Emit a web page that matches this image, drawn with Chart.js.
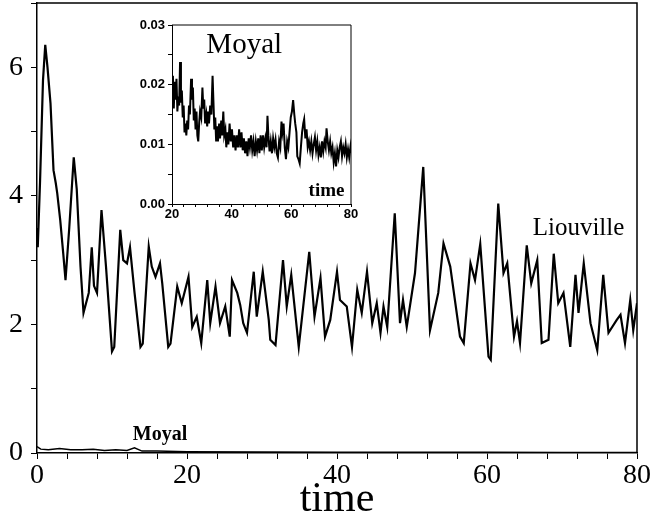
<!DOCTYPE html>
<html>
<head>
<meta charset="utf-8">
<script src="https://cdn.jsdelivr.net/npm/chart.js@4/dist/chart.umd.min.js"></script>
<style>
	html, body { margin: 0; padding: 0; background: #fff; }
	#wrap { position: relative; width: 652px; height: 520px; }
	#main { position: absolute; left: 0; top: 0; }
	#inset { position: absolute; left: 120px; top: 10px; }
</style>
</head>
<body>
<div id="wrap">
	<canvas id="main" width="652" height="520"></canvas>
	<canvas id="inset" width="245" height="215"></canvas>
</div>
<script>
"use strict";

// Liouville curve (main panel)
var liouvilleT = [0, 0.1, 0.4, 0.8, 1.1, 1.4, 1.8, 2.2, 2.5, 2.7, 3.1, 3.5, 3.8, 4.3, 4.9, 5.3, 5.8, 6.2, 6.9, 7.3, 7.6, 8.0, 8.6, 9.2, 10.0, 10.3, 11.1, 11.5, 12.0, 12.4, 13.0, 13.8, 14.1, 14.9, 15.3, 15.8, 16.4, 16.7, 17.5, 17.8, 18.7, 19.3, 20.2, 20.7, 21.3, 21.9, 22.7, 23.1, 23.8, 24.4, 25.1, 25.7, 26.0, 26.7, 27.1, 27.5, 28.0, 28.9, 29.3, 30.1, 30.9, 31.1, 31.8, 32.8, 33.3, 33.9, 34.9, 36.3, 37.0, 37.8, 38.4, 39.1, 40.0, 40.4, 41.3, 42.0, 42.7, 43.3, 44.0, 44.7, 45.3, 45.8, 46.2, 46.7, 47.7, 48.4, 48.8, 49.3, 50.4, 51.5, 52.4, 53.5, 54.2, 55.1, 56.4, 56.9, 57.8, 58.4, 59.1, 60.2, 60.5, 61.5, 62.2, 62.7, 63.6, 64.0, 64.4, 65.3, 65.9, 66.7, 67.3, 68.2, 68.9, 69.5, 70.2, 71.1, 71.8, 72.2, 72.9, 73.8, 74.7, 75.5, 76.2, 77.3, 77.8, 78.4, 79.1, 79.5, 80];
var liouvilleV = [3.5, 3.2, 4.2, 5.8, 6.35, 6.0, 5.44, 4.4, 4.2, 4.04, 3.62, 3.1, 2.69, 3.5, 4.6, 4.1, 2.9, 2.18, 2.49, 3.2, 2.6, 2.49, 3.78, 2.9, 1.58, 1.65, 3.47, 3.0, 2.95, 3.2, 2.5, 1.65, 1.7, 3.21, 2.9, 2.74, 2.95, 2.64, 1.65, 1.7, 2.59, 2.33, 2.74, 1.96, 2.12, 1.71, 2.69, 2.02, 2.59, 2.02, 2.28, 1.81, 2.69, 2.49, 2.3, 2.02, 1.87, 2.82, 2.12, 2.82, 2.07, 1.76, 1.68, 3.0, 2.28, 2.77, 1.65, 3.13, 2.12, 2.72, 1.81, 2.07, 2.82, 2.38, 2.28, 1.65, 2.54, 2.18, 2.82, 2.02, 2.33, 1.87, 2.28, 1.96, 3.73, 2.02, 2.38, 1.96, 2.8, 4.45, 1.91, 2.49, 3.26, 2.9, 1.81, 1.71, 2.95, 2.69, 3.25, 1.5, 1.45, 3.88, 2.8, 2.95, 1.81, 2.05, 1.71, 3.23, 2.64, 3.0, 1.71, 1.76, 3.1, 2.33, 2.49, 1.65, 2.77, 2.18, 2.95, 2.02, 1.6, 2.77, 1.87, 2.07, 2.15, 1.71, 2.38, 1.91, 2.33];

// Moyal curve on the main scale (hugs zero)
var moyalT = [0, 0.5, 1.5, 3, 4.5, 6, 7.5, 9, 10.5, 12, 13, 14, 16, 20, 30, 40, 50, 60, 70, 80];
var moyalV = [0.1, 0.06, 0.05, 0.07, 0.05, 0.05, 0.06, 0.04, 0.05, 0.04, 0.08, 0.03, 0.03, 0.02, 0.014, 0.011, 0.01, 0.012, 0.009, 0.008];

// Moyal curve in the inset, t = 20..80 (band edges)
var insetT = [20, 20.3, 20.6, 20.9, 21.2, 21.5, 21.8, 22.1, 22.4, 22.7, 23.0, 23.3, 23.6, 23.9, 24.2, 24.5, 24.8, 25.1, 25.4, 25.7, 26.0, 26.4, 26.7, 27.0, 27.3, 27.6, 27.9, 28.2, 28.5, 28.8, 29.1, 29.4, 29.8, 30.2, 30.5, 30.8, 31.1, 31.5, 31.8, 32.1, 32.4, 32.8, 33.2, 33.6, 33.9, 34.2, 34.5, 34.8, 35.1, 35.4, 35.8, 36.1, 36.5, 36.8, 37.2, 37.5, 37.9, 38.2, 38.6, 38.9, 39.3, 39.7, 40.1, 40.5, 40.9, 41.3, 41.7, 42.1, 42.5, 42.9, 43.3, 43.7, 44.1, 44.5, 44.9, 45.3, 45.7, 46.1, 46.5, 46.9, 47.3, 47.7, 48.1, 48.5, 48.9, 49.3, 49.7, 50.1, 50.5, 50.9, 51.3, 51.7, 52.0, 52.3, 52.7, 53.1, 53.5, 53.9, 54.3, 54.7, 55.1, 55.5, 55.9, 56.3, 56.7, 57.0, 57.4, 57.8, 58.2, 58.6, 59.0, 59.4, 59.8, 60.2, 60.6, 61.0, 61.3, 61.7, 62.0, 62.4, 62.8, 63.2, 63.6, 64.0, 64.3, 64.7, 65.1, 65.5, 65.9, 66.3, 66.7, 67.1, 67.5, 67.9, 68.3, 68.7, 69.1, 69.5, 69.9, 70.3, 70.7, 71.1, 71.5, 71.8, 72.2, 72.6, 73.0, 73.4, 73.8, 74.2, 74.6, 75.0, 75.4, 75.8, 76.2, 76.6, 77.0, 77.4, 77.8, 78.2, 78.6, 79.0, 79.4, 79.8, 80];
var insetV = [0.019, 0.0215, 0.016, 0.0205, 0.0175, 0.021, 0.0155, 0.018, 0.0165, 0.0238, 0.017, 0.019, 0.0145, 0.0165, 0.012, 0.0135, 0.0115, 0.014, 0.0125, 0.0165, 0.015, 0.021, 0.0175, 0.0195, 0.014, 0.016, 0.0125, 0.0155, 0.0115, 0.0105, 0.0135, 0.0155, 0.0145, 0.0195, 0.016, 0.0175, 0.0135, 0.015, 0.013, 0.0155, 0.0135, 0.0165, 0.015, 0.0215, 0.017, 0.0125, 0.0145, 0.0105, 0.013, 0.0105, 0.0135, 0.011, 0.014, 0.0115, 0.0155, 0.0115, 0.0125, 0.0095, 0.012, 0.01, 0.0135, 0.0105, 0.0125, 0.0095, 0.0115, 0.009, 0.0115, 0.0095, 0.0125, 0.0095, 0.012, 0.009, 0.011, 0.0085, 0.0105, 0.008, 0.011, 0.0095, 0.0115, 0.009, 0.0105, 0.008, 0.0105, 0.009, 0.011, 0.0085, 0.0115, 0.009, 0.0115, 0.0095, 0.011, 0.0095, 0.0148, 0.0115, 0.0088, 0.0105, 0.0085, 0.011, 0.0095, 0.0108, 0.0085, 0.0078, 0.0105, 0.0095, 0.0138, 0.012, 0.0135, 0.0095, 0.0075, 0.0105, 0.0095, 0.012, 0.0145, 0.0155, 0.0174, 0.015, 0.0135, 0.012, 0.008, 0.0075, 0.0068, 0.0095, 0.012, 0.0135, 0.0142, 0.011, 0.0125, 0.0095, 0.0105, 0.009, 0.0105, 0.0085, 0.01, 0.0112, 0.009, 0.0105, 0.0082, 0.0095, 0.0078, 0.0105, 0.0088, 0.0105, 0.0095, 0.0127, 0.0105, 0.009, 0.0105, 0.0085, 0.0095, 0.007, 0.0085, 0.0063, 0.009, 0.0078, 0.0095, 0.0105, 0.008, 0.0095, 0.0085, 0.01, 0.0078, 0.0092, 0.0078, 0.0095, 0.0085];

var SERIF = "'Liberation Serif', 'Times New Roman', serif";
var SANS = "'Liberation Sans', Arial, sans-serif";

function toPoints(ts, vs) {
	var pts = [];
	for (var i = 0; i < ts.length; i++) {
		pts.push({ x: ts[i], y: vs[i] });
	}
	return pts;
}

// drop the extra room chart.js keeps for half of the end tick labels
function noEndPadding(s) {
	s.paddingTop = 0;
	s.paddingBottom = 0;
}

// top/right frame plus in-plot text labels
function framePlugin(width, labels) {
	return {
		id: "frame",
		afterDraw: function(chart) {
			var ctx = chart.ctx, a = chart.chartArea;
			ctx.save();
			ctx.strokeStyle = "#000";
			ctx.lineWidth = width;
			ctx.beginPath();
			ctx.moveTo(a.left, a.top);
			ctx.lineTo(a.right, a.top);
			ctx.lineTo(a.right, a.bottom);
			ctx.stroke();
			ctx.fillStyle = "#000";
			ctx.textAlign = "center";
			ctx.textBaseline = "middle";
			labels.forEach(function(l) {
				ctx.font = l.font;
				ctx.fillText(l.text, chart.scales.x.getPixelForValue(l.x), chart.scales.y.getPixelForValue(l.y));
			});
			ctx.restore();
		}
	};
}

new Chart(document.getElementById("main"), {
	type: "line",
	data: {
		datasets: [{
			data: toPoints(liouvilleT, liouvilleV),
			borderColor: "#000",
			borderWidth: 2.2,
			pointRadius: 0,
			tension: 0
		}, {
			data: toPoints(moyalT, moyalV),
			borderColor: "#000",
			borderWidth: 1.5,
			pointRadius: 0,
			tension: 0
		}]
	},
	options: {
		responsive: false,
		animation: false,
		devicePixelRatio: 1,
		layout: { padding: { top: 3, right: 15, left: 0, bottom: 0 } },
		plugins: { legend: { display: false }, tooltip: { enabled: false } },
		scales: {
			x: {
				type: "linear",
				min: 0,
				max: 80,
				afterFit: function(s) { s.height = 67; },
				ticks: {
					stepSize: 4,
					autoSkip: false,
					maxRotation: 0,
					padding: 0,
					color: "#000",
					font: { family: SERIF, size: 28 },
					callback: function(v) { return v % 20 === 0 ? String(v) : ""; }
				},
				grid: { drawOnChartArea: false, tickLength: 6, color: "#000", lineWidth: 1 },
				border: { color: "#000", width: 1.5 },
				title: { display: true, text: "time", color: "#000", font: { family: SERIF, size: 42, lineHeight: 0.95 }, padding: 0 }
			},
			y: {
				min: 0,
				max: 7,
				afterFit: function(s) { s.width = 37; noEndPadding(s); },
				ticks: {
					stepSize: 1,
					padding: 8,
					color: "#000",
					font: { family: SERIF, size: 28 },
					callback: function(v) { return v % 2 === 0 ? String(v) : ""; }
				},
				grid: { drawOnChartArea: false, tickLength: 6, color: "#000", lineWidth: 1 },
				border: { color: "#000", width: 1.5 }
			}
		}
	},
	plugins: [framePlugin(1.5, [
		{ text: "Liouville", x: 72.2, y: 3.5, font: "25px " + SERIF },
		{ text: "Moyal", x: 16.4, y: 0.28, font: "bold 20px " + SERIF }
	])]
});

new Chart(document.getElementById("inset"), {
	type: "line",
	data: {
		datasets: [{
			data: toPoints(insetT, insetV),
			borderColor: "#000",
			borderWidth: 2,
			pointRadius: 0,
			tension: 0
		}]
	},
	options: {
		responsive: false,
		animation: false,
		devicePixelRatio: 1,
		layout: { padding: { top: 15, right: 14, left: 0, bottom: 0 } },
		plugins: { legend: { display: false }, tooltip: { enabled: false } },
		scales: {
			x: {
				type: "linear",
				min: 20,
				max: 80,
				afterFit: function(s) { s.height = 21; },
				ticks: {
					stepSize: 4,
					autoSkip: false,
					maxRotation: 0,
					padding: 0,
					color: "#000",
					font: { family: SANS, size: 13, weight: "bold" },
					callback: function(v) { return v % 20 === 0 ? String(v) : ""; }
				},
				grid: { drawOnChartArea: false, tickLength: 3, color: "#000", lineWidth: 1 },
				border: { color: "#000", width: 1 }
			},
			y: {
				min: 0,
				max: 0.03,
				afterFit: function(s) { s.width = 52; noEndPadding(s); },
				ticks: {
					stepSize: 0.005,
					padding: 3,
					color: "#000",
					font: { family: SANS, size: 13, weight: "bold" },
					callback: function(v) {
						var k = Math.round(v * 1000);
						return k % 10 === 0 ? (k / 1000).toFixed(2) : "";
					}
				},
				grid: { drawOnChartArea: false, tickLength: 4, color: "#000", lineWidth: 1 },
				border: { color: "#000", width: 1 }
			}
		}
	},
	plugins: [framePlugin(1, [
		{ text: "Moyal", x: 44.2, y: 0.0266, font: "29px " + SERIF },
		{ text: "time", x: 71.8, y: 0.0022, font: "bold 19px " + SERIF }
	])]
});
</script>
</body>
</html>
